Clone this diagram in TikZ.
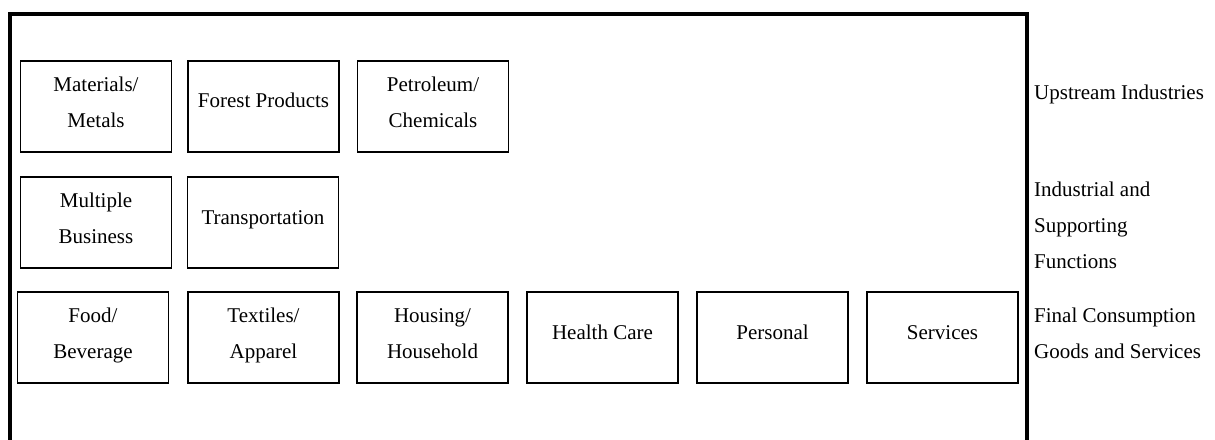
\documentclass[tikz,border=0pt]{standalone}
\usepackage{fontspec}
\setmainfont{Liberation Serif}
\usetikzlibrary{calc}
\begin{document}
\begin{tikzpicture}[x=1pt,y=-1pt,
  box/.style={draw=black,line width=1.8pt,minimum width=151pt,minimum height=91pt,inner sep=0pt,outer sep=0pt},
  lbl/.style={font=\fontsize{21}{36}\selectfont,align=center,inner sep=0pt,anchor=base},
  side/.style={font=\fontsize{21}{36}\selectfont,align=left,inner sep=0pt,anchor=base west}]
\useasboundingbox (0,0) rectangle (1215,439);
\begin{scope}
\clip (0,0) rectangle (1215,439);
\draw[line width=4pt,line join=miter] (10,460) -- (10,14) -- (1027,14) -- (1027,460);
\end{scope}
% row 1
\node[box] (mm) at (96,106.5) {};
\node[box] (fp) at (263.5,106.5) {};
\node[box] (pc) at (433,106.5) {};
% row 2
\node[box] (mb) at (96,222.5) {};
\node[box] (tr) at (263,222.5) {};
% row 3
\node[box] (fb) at (93,337.5) {};
\node[box] (ta) at (263.5,337.5) {};
\node[box] (hh) at (432.5,337.5) {};
\node[box] (hc) at (602.5,337.5) {};
\node[box] (pe) at (772.5,337.5) {};
\node[box] (se) at (942.5,337.5) {};
% texts (base = baseline of last line)
\node[lbl] (tmm) at ($(mm.center)+(0,20.5)$) {Materials/\\Metals};
\node[lbl] (tfp) at ($(fp.center)+(0,1)$) {Forest Products};
\node[lbl] (tpc) at ($(pc.center)+(0,20.5)$) {Petroleum/\\Chemicals};
\node[lbl] (tmb) at ($(mb.center)+(0,20.5)$) {Multiple\\Business};
\node[lbl] (ttr) at ($(tr.center)+(0,2)$) {Transportation};
\node[lbl] (tfb) at ($(fb.center)+(0,21)$) {Food/\\Beverage};
\node[lbl] (tta) at ($(ta.center)+(0,21)$) {Textiles/\\Apparel};
\node[lbl] (thh) at ($(hh.center)+(0,21)$) {Housing/\\Household};
\node[lbl] (thc) at ($(hc.center)+(0,1.5)$) {Health Care};
\node[lbl] (tpe) at ($(pe.center)+(0,1.5)$) {Personal};
\node[lbl] (tse) at ($(se.center)+(0,1.5)$) {Services};
% side labels
\node[side] (s1) at (1034,99) {Upstream Industries};
\node[side] (s2) at (1034,268) {Industrial and\\Supporting\\Functions};
\node[side] (s3) at (1034,358) {Final Consumption\\Goods and Services};
\end{tikzpicture}
\end{document}
